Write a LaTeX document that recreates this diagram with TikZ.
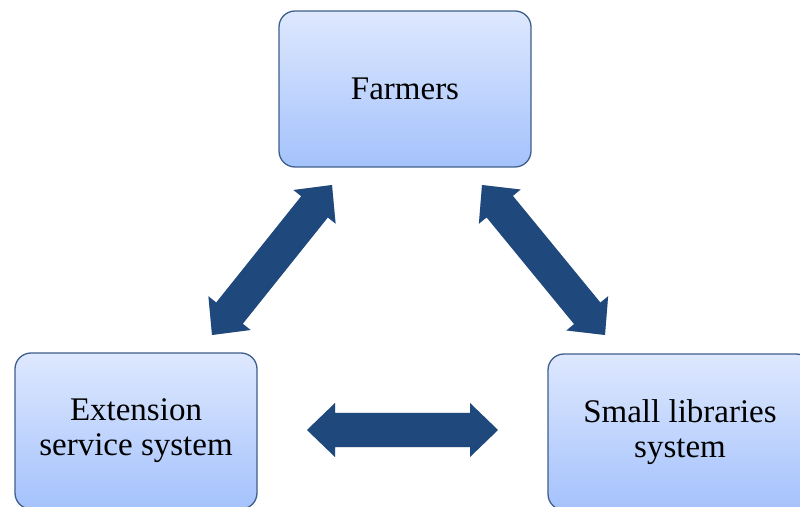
\documentclass[tikz,border=0pt]{standalone}
\usepackage{fontspec}
\setmainfont{Liberation Serif}
\newfontfamily\boxfont{Liberation Serif}
\usetikzlibrary{calc}
\definecolor{boxtop}{HTML}{DEE8FE}
\definecolor{boxbot}{HTML}{A4C2FC}
\definecolor{boxline}{HTML}{3E5F8A}
\definecolor{arrowblue}{HTML}{1F497D}
\tikzset{
  box/.style={rectangle, rounded corners=16pt, draw=boxline, line width=1.3pt,
    top color=boxtop, bottom color=boxbot, inner sep=0pt, align=center,
    font=\boxfont\fontsize{33}{35}\selectfont},
  arrowfill/.style={fill=arrowblue},
  shadowfill/.style={fill=black, opacity=0.18}
}
\newcommand\arrowpath[2]{%
  (#1) -- ($(p1)!27pt!90:(#2)$) -- ($(p1)!17pt!90:(#2)$)
    -- ($(p2)!17pt!-90:(#1)$) -- ($(p2)!27pt!-90:(#1)$) -- (#2)
    -- ($(p2)!27pt!90:(#1)$) -- ($(p2)!17pt!90:(#1)$)
    -- ($(p1)!17pt!-90:(#2)$) -- ($(p1)!27pt!-90:(#2)$) -- cycle}
\newcommand\dblarrow[2]{%
  \coordinate (p1) at ($(#1)!28pt!(#2)$);
  \coordinate (p2) at ($(#2)!28pt!(#1)$);
  \fill[shadowfill, xshift=1.5pt, yshift=-1.5pt] \arrowpath{#1}{#2};
  \fill[arrowfill] \arrowpath{#1}{#2};
}
\begin{document}
\begin{tikzpicture}[x=1pt,y=1pt]
\useasboundingbox (0,0) rectangle (800,506);
\clip (0,0) rectangle (800,506);
\node[box, minimum width=252pt, minimum height=156pt] (farm) at (405,417) {Farmers};
\node[box, minimum width=242pt, minimum height=156pt] (ext) at (136,75) {Extension\\service system};
\node[box, minimum width=264pt, minimum height=156pt] (lib) at (680,74) {Small libraries\\system};
% arrow tips
\coordinate (a1) at (212,171);
\coordinate (b1) at (332,321);
\coordinate (a2) at (482,321);
\coordinate (b2) at (605,171);
\coordinate (a3) at (307,76);
\coordinate (b3) at (498,76);
\dblarrow{a1}{b1}
\dblarrow{a2}{b2}
\dblarrow{a3}{b3}
\end{tikzpicture}
\end{document}
